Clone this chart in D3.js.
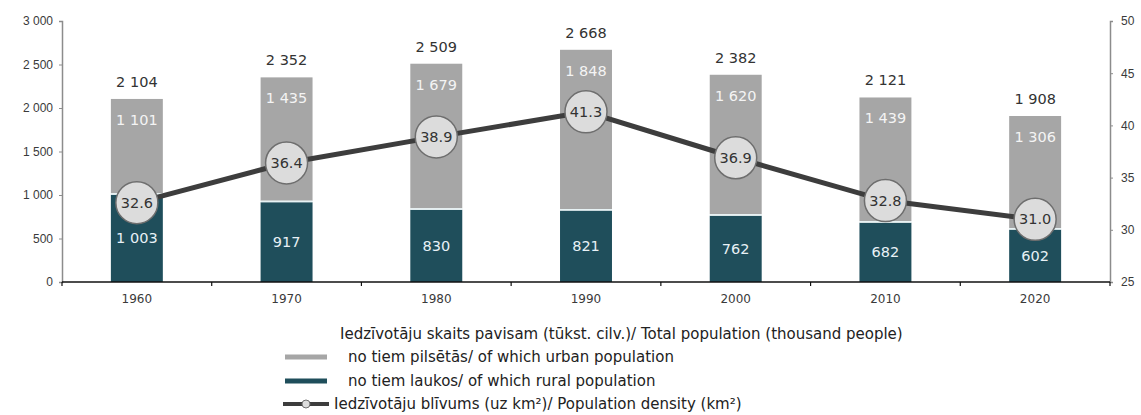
<!DOCTYPE html>
<html><head><meta charset="utf-8">
<script src="https://cdn.jsdelivr.net/npm/d3@7/dist/d3.min.js"></script>
<style>body{margin:0;background:#fff}svg{display:block;font-family:"DejaVu Sans",Verdana,sans-serif}</style>
</head><body><svg id="c" width="1141" height="415"></svg>
<script>
const years = ["1960","1970","1980","1990","2000","2010","2020"];
const totals = [2104,2352,2509,2668,2382,2121,1908];
const urban = [1101,1435,1679,1848,1620,1439,1306];
const rural = [1003,917,830,821,762,682,602];
const density = [32.6,36.4,38.9,41.3,36.9,32.8,31.0];
const leftTicks = [0,500,1000,1500,2000,2500,3000];
const rightTicks = [25,30,35,40,45,50];
const legendLabels = [
  "Iedzīvotāju skaits pavisam (tūkst. cilv.)/ Total population (thousand people)",
  "no tiem pilsētās/ of which urban population",
  "no tiem laukos/ of which rural population",
  "Iedzīvotāju blīvums (uz km²)/ Population density (km²)"
];

const cUrban = "#a6a6a6", cRural = "#1f4e5b", cLine = "#3d3d3d";
const svg = d3.select("#c");
const x0 = 62, x1 = 1110, yTop = 21, yBot = 282;
const x = d3.scaleBand().domain(years).range([x0, x1]).paddingInner(0.653).paddingOuter(0.3265);
const y = d3.scaleLinear().domain([0,3000]).range([yBot, yTop]);
const y2 = d3.scaleLinear().domain([25,50]).range([yBot, yTop]);
const fmt = v => d3.format(",")(v).replace(/,/g, " ");

// left axis
const la = svg.append("g").attr("transform",`translate(${x0},0)`)
  .call(d3.axisLeft(y).tickValues(leftTicks).tickSize(3).tickFormat(fmt));
la.select(".domain").attr("stroke","#8c8c8c").attr("stroke-width",1.5);
la.selectAll(".tick line").attr("stroke","#8c8c8c");
la.selectAll("text").attr("font-size",12).attr("fill","#3a3a3a").attr("dx",-3);

// right axis
const ra = svg.append("g").attr("transform",`translate(${x1},0)`)
  .call(d3.axisRight(y2).tickValues(rightTicks).tickSize(3));
ra.select(".domain").attr("stroke","#8c8c8c").attr("stroke-width",1.5);
ra.selectAll(".tick line").attr("stroke","#8c8c8c");
ra.selectAll("text").attr("font-size",12).attr("fill","#3a3a3a").attr("dx",5);

// bars
const g = svg.append("g");
years.forEach((yr,i) => {
  const bx = x(yr), bw = x.bandwidth();
  g.append("rect").attr("x",bx).attr("width",bw)
    .attr("y",y(rural[i])).attr("height",yBot - y(rural[i])).attr("fill",cRural);
  g.append("rect").attr("x",bx).attr("width",bw)
    .attr("y",y(rural[i]+urban[i])).attr("height",y(rural[i]) - y(rural[i]+urban[i]) - 1.5).attr("fill",cUrban);
  g.append("rect").attr("x",bx).attr("width",bw)
    .attr("y",y(rural[i]) - 1.5).attr("height",1.5).attr("fill","#e6f2f4");
});

// x axis
const xa = svg.append("g");
xa.append("line").attr("x1",x0).attr("x2",x1).attr("y1",yBot).attr("y2",yBot).attr("stroke","#111").attr("stroke-width",1.5);
const step = x.step();
for (let k = 0; k <= years.length; k++) {
  const bxv = k < years.length ? x(years[k]) - step*x.paddingInner()/2 : x(years[k-1]) + x.bandwidth() + step*x.paddingInner()/2;
  xa.append("line").attr("x1",bxv).attr("x2",bxv).attr("y1",yBot).attr("y2",yBot+4).attr("stroke","#111").attr("stroke-width",1.2);
}
years.forEach(yr => {
  xa.append("text").attr("x",x(yr)+x.bandwidth()/2).attr("y",yBot+21).attr("text-anchor","middle")
    .attr("font-size",12).attr("fill","#3a3a3a").text(yr);
});

// bar labels
years.forEach((yr,i) => {
  const cx = x(yr)+x.bandwidth()/2;
  const top = y(totals[i]);
  g.append("text").attr("x",cx).attr("y",top-12).attr("text-anchor","middle").attr("font-size",14.5).attr("fill","#333").text(fmt(totals[i]));
  g.append("text").attr("x",cx).attr("y",top+26).attr("text-anchor","middle").attr("font-size",14.5).attr("fill","#f4f4f4").text(fmt(urban[i]));
  g.append("text").attr("x",cx).attr("y",(y(rural[i])+yBot)/2+5).attr("text-anchor","middle").attr("font-size",14.5).attr("fill","#e8f1f6").text(fmt(rural[i]));
});

// density line
const line = d3.line().x((d,i)=>x(years[i])+x.bandwidth()/2).y(d=>y2(d));
svg.append("path").datum(density).attr("d",line).attr("fill","none").attr("stroke",cLine).attr("stroke-width",5);
const pts = svg.append("g");
density.forEach((d,i) => {
  const cx = x(years[i])+x.bandwidth()/2, cy = y2(d);
  pts.append("circle").attr("cx",cx).attr("cy",cy).attr("r",21).attr("fill","#dcdcdc").attr("stroke","#6e6e6e").attr("stroke-width",1.5);
  pts.append("text").attr("x",cx).attr("y",cy+5).attr("text-anchor","middle").attr("font-size",14.5).attr("fill","#333").text(d.toFixed(1));
});

// legend
const lg = svg.append("g").attr("font-size",15).attr("fill","#222");
lg.append("text").attr("x",340).attr("y",339).text(legendLabels[0]);
lg.append("line").attr("x1",285).attr("x2",327).attr("y1",357).attr("y2",357).attr("stroke",cUrban).attr("stroke-width",5);
lg.append("text").attr("x",348).attr("y",362).text(legendLabels[1]);
lg.append("line").attr("x1",285).attr("x2",327).attr("y1",381).attr("y2",381).attr("stroke",cRural).attr("stroke-width",5);
lg.append("text").attr("x",348).attr("y",386).text(legendLabels[2]);
lg.append("line").attr("x1",283).attr("x2",329).attr("y1",404).attr("y2",404).attr("stroke",cLine).attr("stroke-width",4);
lg.append("circle").attr("cx",306).attr("cy",404).attr("r",4).attr("fill","#dcdcdc").attr("stroke","#6e6e6e");
lg.append("text").attr("x",334).attr("y",409).text(legendLabels[3]);
</script></body></html>
